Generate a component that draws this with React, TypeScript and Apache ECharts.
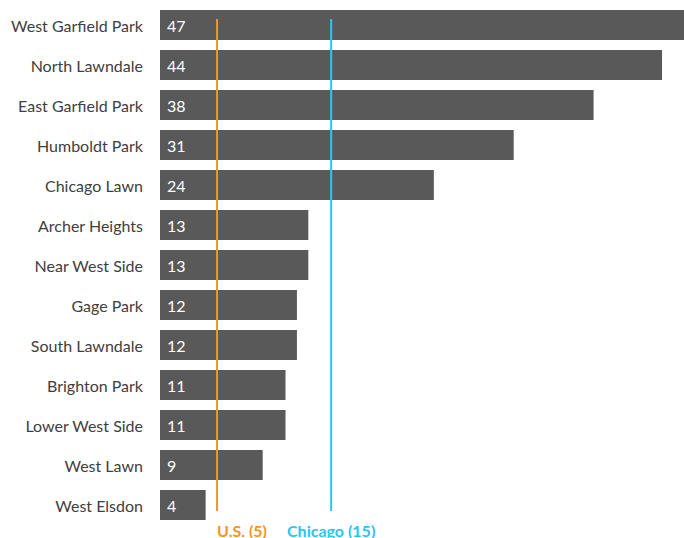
import React, { useEffect, useRef } from "react";
import * as echarts from "echarts";

const categories = [
  "West Garfield Park",
  "North Lawndale",
  "East Garfield Park",
  "Humboldt Park",
  "Chicago Lawn",
  "Archer Heights",
  "Near West Side",
  "Gage Park",
  "South Lawndale",
  "Brighton Park",
  "Lower West Side",
  "West Lawn",
  "West Elsdon",
];
const values = [47, 44, 38, 31, 24, 13, 13, 12, 12, 11, 11, 9, 4];
const refNames = ["U.S. (5)", "Chicago (15)"];
const refValues = [5, 15];

const refColors = ["#F7941D", "#29C5F6"];
const refAligns = ["left", "center"];

export default function App() {
  const ref = useRef<HTMLDivElement>(null);
  useEffect(() => {
    if (!ref.current) return;
    const chart = echarts.init(ref.current, null, { renderer: "svg" });
    const font = "Lato, 'Open Sans', sans-serif";
    chart.setOption({
      animation: false,
      grid: {
        left: 160,
        top: 5,
        width: 570.5,
        height: 520,
        containLabel: false,
        outerBoundsMode: "none",
      },
      xAxis: {
        type: "value",
        min: 0,
        max: 50,
        show: false,
      },
      yAxis: {
        type: "category",
        data: categories,
        inverse: true,
        axisLine: { show: false },
        axisTick: { show: false },
        splitLine: { show: false },
        axisLabel: {
          margin: 17,
          color: "#404040",
          fontSize: 16,
          fontFamily: font,
        },
      },
      series: [
        {
          type: "bar",
          data: values,
          barWidth: 30,
          itemStyle: { color: "#595959" },
          label: {
            show: true,
            position: "insideLeft",
            distance: 7,
            color: "#ffffff",
            fontSize: 16,
            fontFamily: font,
          },
          silent: true,
        },
        {
          type: "custom",
          data: refValues.map((v, i) => [v, i]),
          z: 10,
          silent: true,
          renderItem: (params: any, api: any) => {
            const v = api.value(0);
            const i = api.value(1);
            const top = api.coord([v, 0]);
            const bot = api.coord([v, categories.length - 1]);
            return {
              type: "group",
              children: [
                {
                  type: "line",
                  shape: { x1: top[0], y1: top[1] - 6, x2: bot[0], y2: bot[1] + 6 },
                  style: { stroke: refColors[i], lineWidth: 2 },
                },
                {
                  type: "text",
                  x: bot[0],
                  y: bot[1] + 25,
                  style: {
                    text: refNames[i],
                    fill: refColors[i],
                    font: `bold 16px ${font}`,
                    align: refAligns[i],
                    verticalAlign: "middle",
                  },
                },
              ],
            };
          },
        },
      ],
    });
    return () => chart.dispose();
  }, []);
  return (
    <div
      ref={ref}
      style={{ position: "fixed", left: 0, top: 0, width: 684, height: 538, background: "#fff" }}
    />
  );
}
